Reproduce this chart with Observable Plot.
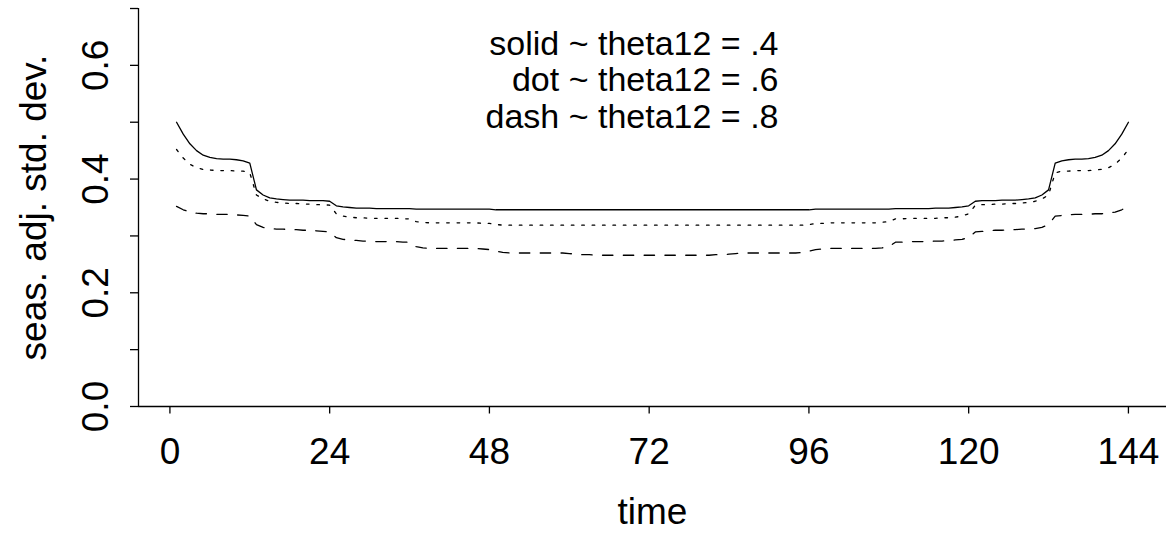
<!DOCTYPE html>
<html><head><meta charset="utf-8">
<script src="https://cdn.jsdelivr.net/npm/d3@7"></script>
<script src="https://cdn.jsdelivr.net/npm/@observablehq/plot@0.6"></script>
<style>body{margin:0;background:#fff} svg{display:block}</style>
</head><body><div id="chart"></div>
<script>
// time index 1..144
const time = d3.range(1, 145);

// theta12 = .4 (solid)
const solid04 = [
  0.500,0.479,0.462,0.450,0.442,0.438,0.436,0.435,0.435,0.434,0.432,0.428,
  0.381,0.372,0.367,0.365,0.364,0.363,0.363,0.363,0.362,0.362,0.362,0.361,
  0.353,0.351,0.350,0.349,0.349,0.349,0.348,0.348,0.348,0.348,0.348,0.348,
  0.347,0.347,0.347,0.347,0.347,0.347,0.347,0.347,0.347,0.347,0.347,0.347,
  0.346,0.346,0.346,0.346,0.346,0.346,0.346,0.346,0.346,0.346,0.346,0.346,
  0.346,0.346,0.346,0.346,0.346,0.346,0.346,0.346,0.346,0.346,0.346,0.346,
  0.346,0.346,0.346,0.346,0.346,0.346,0.346,0.346,0.346,0.346,0.346,0.346,
  0.346,0.346,0.346,0.346,0.346,0.346,0.346,0.346,0.346,0.346,0.346,0.346,
  0.347,0.347,0.347,0.347,0.347,0.347,0.347,0.347,0.347,0.347,0.347,0.347,
  0.348,0.348,0.348,0.348,0.348,0.348,0.349,0.349,0.349,0.350,0.351,0.353,
  0.361,0.362,0.362,0.362,0.363,0.363,0.363,0.364,0.365,0.367,0.372,0.381,
  0.428,0.432,0.434,0.435,0.435,0.436,0.438,0.442,0.450,0.462,0.479,0.500
];

// theta12 = .6 (dot)
const dot06 = [
  0.452,0.437,0.426,0.420,0.417,0.416,0.415,0.415,0.415,0.414,0.414,0.411,
  0.372,0.365,0.361,0.359,0.358,0.357,0.357,0.356,0.356,0.355,0.355,0.354,
  0.339,0.335,0.333,0.332,0.332,0.331,0.331,0.331,0.331,0.331,0.330,0.330,
  0.325,0.324,0.323,0.323,0.323,0.323,0.323,0.323,0.323,0.323,0.322,0.322,
  0.320,0.319,0.319,0.319,0.319,0.319,0.319,0.319,0.319,0.319,0.319,0.319,
  0.319,0.319,0.319,0.319,0.319,0.319,0.319,0.319,0.319,0.319,0.319,0.319,
  0.319,0.319,0.319,0.319,0.319,0.319,0.319,0.319,0.319,0.319,0.319,0.319,
  0.319,0.319,0.319,0.319,0.319,0.319,0.319,0.319,0.319,0.319,0.319,0.320,
  0.322,0.322,0.323,0.323,0.323,0.323,0.323,0.323,0.323,0.323,0.324,0.325,
  0.330,0.330,0.331,0.331,0.331,0.331,0.331,0.332,0.332,0.333,0.335,0.339,
  0.354,0.355,0.355,0.356,0.356,0.357,0.357,0.358,0.359,0.361,0.365,0.372,
  0.411,0.414,0.414,0.415,0.415,0.415,0.416,0.417,0.420,0.426,0.437,0.452
];

// theta12 = .8 (dash)
const dash08 = [
  0.352,0.346,0.342,0.340,0.339,0.339,0.338,0.338,0.338,0.337,0.336,0.335,
  0.320,0.315,0.313,0.312,0.312,0.311,0.311,0.310,0.310,0.309,0.308,0.307,
  0.297,0.294,0.293,0.292,0.291,0.291,0.290,0.290,0.290,0.290,0.289,0.289,
  0.281,0.279,0.278,0.278,0.278,0.278,0.278,0.278,0.278,0.278,0.277,0.276,
  0.273,0.271,0.270,0.270,0.270,0.270,0.270,0.270,0.270,0.270,0.270,0.269,
  0.268,0.267,0.267,0.266,0.266,0.266,0.266,0.266,0.266,0.266,0.266,0.266,
  0.266,0.266,0.266,0.266,0.266,0.266,0.266,0.266,0.266,0.267,0.267,0.268,
  0.269,0.270,0.270,0.270,0.270,0.270,0.270,0.270,0.270,0.270,0.271,0.273,
  0.276,0.277,0.278,0.278,0.278,0.278,0.278,0.278,0.278,0.278,0.279,0.281,
  0.289,0.289,0.290,0.290,0.290,0.290,0.291,0.291,0.292,0.293,0.294,0.297,
  0.307,0.308,0.309,0.310,0.310,0.311,0.311,0.312,0.312,0.313,0.315,0.320,
  0.335,0.336,0.337,0.338,0.338,0.338,0.339,0.339,0.340,0.342,0.346,0.352
];

const xTicks = [0, 24, 48, 72, 96, 120, 144];
const yTicks = [0, 0.1, 0.2, 0.3, 0.4, 0.5, 0.6, 0.7];
const yTickLabels = ["0.0", "", "0.2", "", "0.4", "", "0.6", ""];
const legendLabels = ["solid ~ theta12 = .4", "dot ~ theta12 = .6", "dash ~ theta12 = .8"];
const xLabel = "time";
const yLabel = "seas. adj. std. dev.";
const xDomain = [-4.72, 149.72];
const yDomain = [0, 0.7];

const toRows = (vals) => time.map((t, i) => ({t, v: vals[i]}));

const lineOpts = {x: "t", y: "v", stroke: "black", strokeWidth: 1.3, strokeLinecap: "round", strokeLinejoin: "round"};

const chart = Plot.plot({
  width: 1167,
  height: 537,
  marginTop: 8,
  marginBottom: 131,
  marginLeft: 138,
  marginRight: 1,
  style: {fontFamily: "'Liberation Sans', Arial, sans-serif", background: "white", color: "black"},
  x: {domain: xDomain},
  y: {domain: yDomain},
  marks: [
    Plot.ruleY([yDomain[0]], {stroke: "black", strokeWidth: 1.3}),
    Plot.ruleX([xDomain[0]], {stroke: "black", strokeWidth: 1.3}),
    Plot.axisX({ticks: xTicks, tickSize: 7.5, tickPadding: 24, fontSize: 37, label: null, strokeWidth: 1.3}),
    Plot.axisY({ticks: yTicks, tickSize: 8, tickPadding: 23, tickRotate: -90, fontSize: 37, label: null, strokeWidth: 1.3,
      tickFormat: d => yTickLabels[yTicks.findIndex(t => Math.abs(t - d) < 1e-9)] ?? ""}),
    Plot.line(toRows(solid04), {...lineOpts}),
    Plot.line(toRows(dot06), {...lineOpts, strokeDasharray: "2.6,7.8"}),
    Plot.line(toRows(dash08), {...lineOpts, strokeDasharray: "10.4,10.4"}),
    Plot.text([yLabel], {frameAnchor: "left", dx: -93, rotate: -90, textAnchor: "middle", lineAnchor: "bottom", fontSize: 37}),
    Plot.text([xLabel], {frameAnchor: "bottom", dy: 117, textAnchor: "middle", lineAnchor: "bottom", fontSize: 37}),
    Plot.text([legendLabels.join("\n")], {frameAnchor: "top", dx: 126, dy: 20.4, textAnchor: "end", lineAnchor: "top", lineHeight: 36.5 / 34, fontSize: 34})
  ]
});
document.getElementById("chart").appendChild(chart);
</script>
</body></html>
